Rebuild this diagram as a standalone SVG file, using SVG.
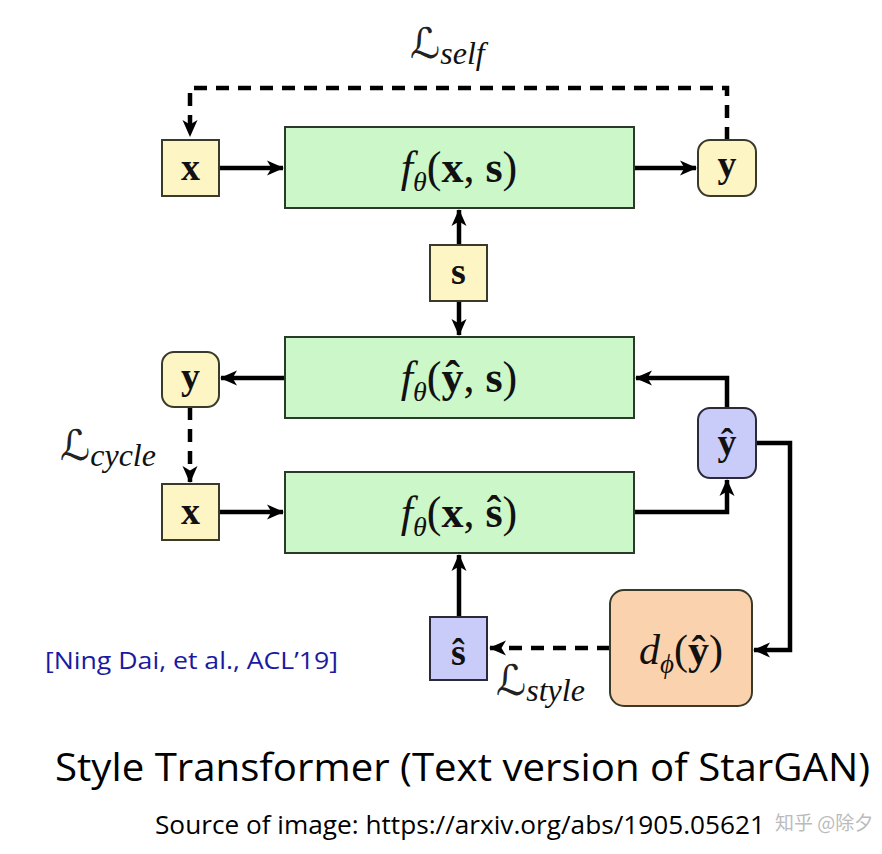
<svg xmlns="http://www.w3.org/2000/svg" width="882" height="854" viewBox="0 0 882 854">
<defs>
<marker id="ah" markerUnits="userSpaceOnUse" markerWidth="18" markerHeight="18" viewBox="0 0 18 18" refX="16" refY="9" orient="auto">
<path d="M0,1.5 L17,9 L0,16.5 L4.5,9 Z" fill="#000"/>
</marker>
<style>
.yel{fill:#fdf5c4;stroke:#3a3a2a;stroke-width:2}
.grn{fill:#ccf7c8;stroke:#2a3a2a;stroke-width:2}
.blu{fill:#c9cbf8;stroke:#2a2a3a;stroke-width:2}
.org{fill:#fbd2ae;stroke:#3a3a2a;stroke-width:2}
.ln{fill:none;stroke:#000;stroke-width:4.5}
.dl{fill:none;stroke:#000;stroke-width:4.5;stroke-dasharray:13 9}
.m{font-family:"Liberation Serif","DejaVu Serif",serif;fill:#111}
.b{font-weight:bold}
.i{font-style:italic}
.L{font-family:"DejaVu Serif","DejaVu Sans",serif;fill:#222}
</style>
</defs>
<rect width="882" height="854" fill="#fff"/>

<g id="connectors">
<path class="dl" d="M727,140 V88 H190 V136" marker-end="url(#ah)"/>
<line class="ln" x1="219" y1="168" x2="283" y2="168" marker-end="url(#ah)"/>
<line class="ln" x1="634" y1="168" x2="696" y2="168" marker-end="url(#ah)"/>
<line class="ln" x1="459" y1="245" x2="459" y2="210" marker-end="url(#ah)"/>
<line class="ln" x1="459" y1="301" x2="459" y2="335" marker-end="url(#ah)"/>
<line class="ln" x1="285" y1="378" x2="221" y2="378" marker-end="url(#ah)"/>
<path class="dl" d="M190,407 V482" marker-end="url(#ah)"/>
<line class="ln" x1="219" y1="512" x2="283" y2="512" marker-end="url(#ah)"/>
<path class="ln" d="M634,512 H727 V480" marker-end="url(#ah)"/>
<path class="ln" d="M727,408 V378 H636" marker-end="url(#ah)"/>
<path class="ln" d="M756,443 H790 V650 H754" marker-end="url(#ah)"/>
<path class="dl" d="M610,648 H490" marker-end="url(#ah)"/>
<line class="ln" x1="459" y1="617" x2="459" y2="555" marker-end="url(#ah)"/>
</g>

<g id="node-x1"><rect class="yel" x="162" y="140" width="57" height="56"/><text class="m b" x="190.5" y="180" font-size="38" text-anchor="middle">x</text></g>
<g id="node-f1"><rect class="grn" x="285" y="127" width="349" height="81"/><text class="m" x="459" y="182" font-size="44" text-anchor="middle"><tspan class="i">f</tspan><tspan class="i" font-size="28" dy="9">θ</tspan><tspan dy="-9">(</tspan><tspan class="b">x</tspan>, <tspan class="b">s</tspan>)</text></g>
<g id="node-y1"><rect class="yel" x="698" y="140" width="58" height="56" rx="12"/><text class="m b" x="727" y="177" font-size="38" text-anchor="middle">y</text></g>
<g id="node-s"><rect class="yel" x="430" y="245" width="57" height="56"/><text class="m b" x="458.5" y="284" font-size="38" text-anchor="middle">s</text></g>
<g id="node-f2"><rect class="grn" x="285" y="337" width="349" height="81"/><text class="m" x="459" y="392" font-size="44" text-anchor="middle"><tspan class="i">f</tspan><tspan class="i" font-size="28" dy="9">θ</tspan><tspan dy="-9">(</tspan><tspan class="b">ŷ</tspan>, <tspan class="b">s</tspan>)</text></g>
<g id="node-y2"><rect class="yel" x="162" y="352" width="57" height="55" rx="12"/><text class="m b" x="190.5" y="389" font-size="38" text-anchor="middle">y</text></g>
<g id="node-x2"><rect class="yel" x="162" y="484" width="57" height="56"/><text class="m b" x="190.5" y="524" font-size="38" text-anchor="middle">x</text></g>
<g id="node-f3"><rect class="grn" x="285" y="472" width="349" height="81"/><text class="m" x="459" y="527" font-size="44" text-anchor="middle"><tspan class="i">f</tspan><tspan class="i" font-size="28" dy="9">θ</tspan><tspan dy="-9">(</tspan><tspan class="b">x</tspan>, <tspan class="b">ŝ</tspan>)</text></g>
<g id="node-yhat"><rect class="blu" x="698" y="408" width="58" height="70" rx="12"/><text class="m b" x="727" y="455" font-size="38" text-anchor="middle">ŷ</text></g>
<g id="node-d"><rect class="org" x="610" y="590" width="142" height="116" rx="14"/><text class="m" x="681" y="664" font-size="42" text-anchor="middle"><tspan class="i">d</tspan><tspan class="i" font-size="27" dy="9">ϕ</tspan><tspan dy="-9">(</tspan><tspan class="b">ŷ</tspan>)</text></g>
<g id="node-shat"><rect class="blu" x="430" y="617" width="57" height="63"/><text class="m b" x="458.5" y="665" font-size="38" text-anchor="middle">ŝ</text></g>

<g id="labels">
<text class="L" x="410" y="58" font-size="42">ℒ<tspan class="m i" font-size="32" dy="6">self</tspan></text>
<text class="L" x="60" y="460" font-size="42">ℒ<tspan class="m i" font-size="32" dy="6">cycle</tspan></text>
<text class="L" x="496" y="695" font-size="42">ℒ<tspan class="m i" font-size="32" dy="6">style</tspan></text>
<text x="45" y="669" font-family="Open Sans, Liberation Sans, sans-serif" font-size="23" fill="#1a1aa0" textLength="293" lengthAdjust="spacingAndGlyphs">[Ning Dai, et al., ACL’19]</text>
<text x="55" y="781" font-family="Open Sans, Liberation Sans, sans-serif" font-size="39" fill="#000" textLength="815" lengthAdjust="spacingAndGlyphs">Style Transformer (Text version of StarGAN)</text>
<text x="155" y="834" font-family="Open Sans, Liberation Sans, sans-serif" font-size="25" fill="#000" textLength="610" lengthAdjust="spacingAndGlyphs">Source of image: https://arxiv.org/abs/1905.05621</text>
<text x="775" y="830" font-family="Noto Sans CJK SC, sans-serif" font-size="19" fill="#bbb">知乎 @除夕</text>
</g>
</svg>
